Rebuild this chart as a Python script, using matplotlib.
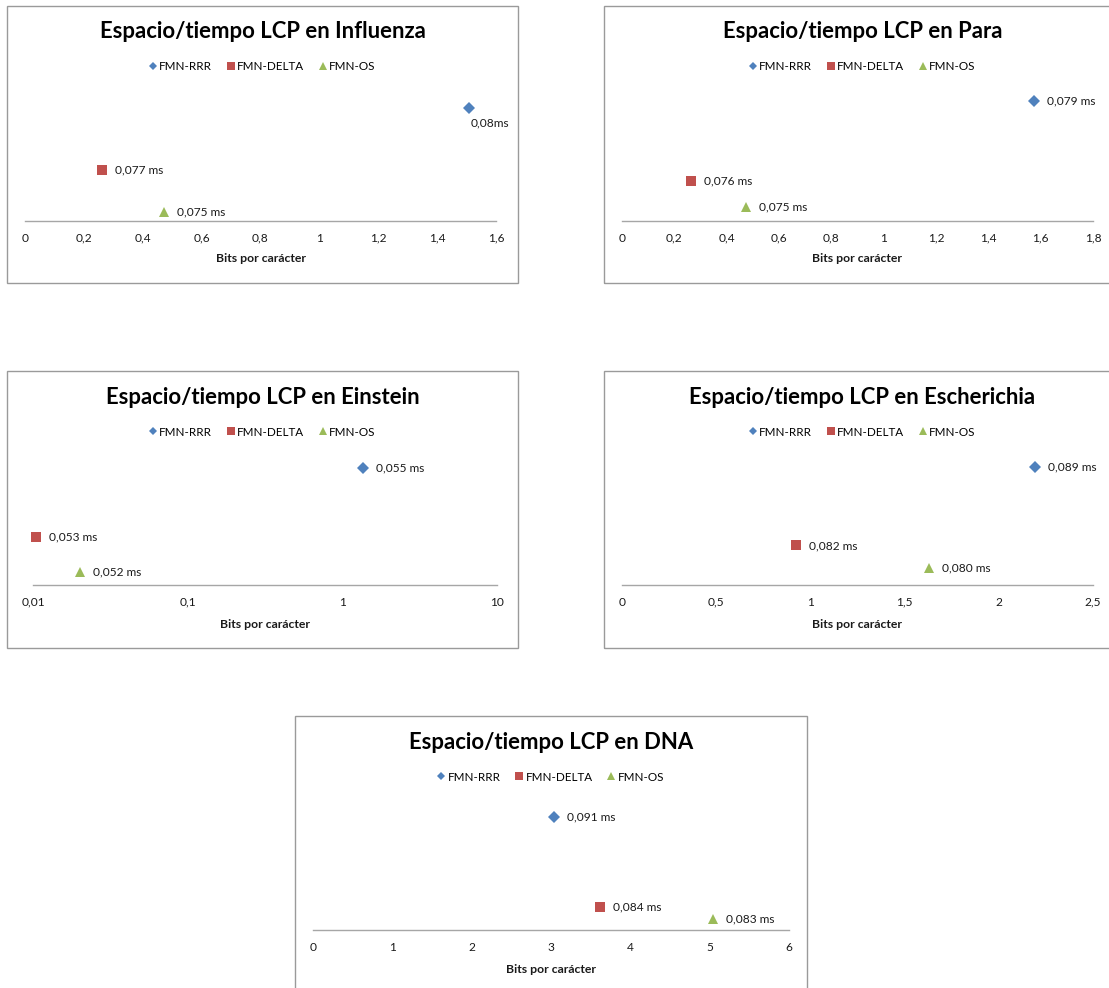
import matplotlib
matplotlib.use('Agg')
import matplotlib.pyplot as plt
from matplotlib.patches import Rectangle
from matplotlib.ticker import FuncFormatter, FixedLocator, NullLocator

plt.rcParams['font.family'] = ['Lato', 'DejaVu Sans']

W, H = 1109, 988

series_names = ['FMN-RRR', 'FMN-DELTA', 'FMN-OS']
colors = ['#4F81BD', '#C0504D', '#9BBB59']
markers = ['D', 's', '^']

titles = ['Espacio/tiempo LCP en Influenza', 'Espacio/tiempo LCP en Para',
          'Espacio/tiempo LCP en Einstein', 'Espacio/tiempo LCP en Escherichia',
          'Espacio/tiempo LCP en DNA']

# bits per character for RRR, DELTA, OS
influenza_bpc = [1.508, 0.262, 0.472]
para_bpc = [1.575, 0.264, 0.474]
einstein_bpc = [1.36, 0.0105, 0.0201]
escherichia_bpc = [2.19, 0.924, 1.63]
dna_bpc = [3.04, 3.62, 5.04]

# time per LCP query (ms)
influenza_ms = [0.080, 0.077, 0.075]
para_ms = [0.079, 0.076, 0.075]
einstein_ms = [0.055, 0.053, 0.052]
escherichia_ms = [0.089, 0.082, 0.080]
dna_ms = [0.091, 0.084, 0.083]

influenza_lbl = ['0,08ms', '0,077 ms', '0,075 ms']
para_lbl = ['0,079 ms', '0,076 ms', '0,075 ms']
einstein_lbl = ['0,055 ms', '0,053 ms', '0,052 ms']
escherichia_lbl = ['0,089 ms', '0,082 ms', '0,080 ms']
dna_lbl = ['0,091 ms', '0,084 ms', '0,083 ms']

panels = [
    # frame and plot area in pixels (x0, y0, x1, y1)
    dict(x=influenza_bpc, y=influenza_ms, lbl=influenza_lbl,
         frame=(7, 6, 518, 283), area=(25, 85, 496, 220.7),
         xlim=(0, 1.6), ylim=(0.07458, 0.08111), log=False,
         xticks=[0, 0.2, 0.4, 0.6, 0.8, 1, 1.2, 1.4, 1.6]),
    dict(x=para_bpc, y=para_ms, lbl=para_lbl,
         frame=(604, 6, 1125, 283), area=(622, 85, 1093, 220.7),
         xlim=(0, 1.8), ylim=(0.07449, 0.0796), log=False,
         xticks=[0, 0.2, 0.4, 0.6, 0.8, 1, 1.2, 1.4, 1.6, 1.8]),
    dict(x=einstein_bpc, y=einstein_ms, lbl=einstein_lbl,
         frame=(7, 371, 518, 648), area=(33, 450, 497, 585),
         xlim=(0.01, 10), ylim=(0.05162, 0.05552), log=True,
         xticks=[0.01, 0.1, 1, 10]),
    dict(x=escherichia_bpc, y=escherichia_ms, lbl=escherichia_lbl,
         frame=(604, 371, 1125, 648), area=(622, 450, 1093, 585),
         xlim=(0, 2.5), ylim=(0.07849, 0.09047), log=False,
         xticks=[0, 0.5, 1, 1.5, 2, 2.5]),
    dict(x=dna_bpc, y=dna_ms, lbl=dna_lbl,
         frame=(295, 716, 807, 1000), area=(313, 795, 789, 930),
         xlim=(0, 6), ylim=(0.08217, 0.09272), log=False,
         xticks=[0, 1, 2, 3, 4, 5, 6]),
]

# label offsets in pixels (dx, dy) where the label is not right of the mark
offsets = {(0, 0): (2, -15)}

fig = plt.figure(figsize=(W / 100, H / 100), dpi=100)
fig.patch.set_facecolor('white')


def comma(v, pos=None):
    return ('%g' % v).replace('.', ',')


for i, p in enumerate(panels):
    fx0, fy0, fx1, fy1 = p['frame']
    fig.patches.append(Rectangle((fx0 / W, 1 - fy1 / H), (fx1 - fx0) / W, (fy1 - fy0) / H,
                                 transform=fig.transFigure, fill=False,
                                 edgecolor='#9A9A9A', lw=1.0))
    ax0, ay0, ax1, ay1 = p['area']
    ax = fig.add_axes([ax0 / W, 1 - ay1 / H, (ax1 - ax0) / W, (ay1 - ay0) / H])
    ax.patch.set_alpha(0)
    for s in range(3):
        ax.plot(p['x'][s], p['y'][s], ls='none', marker=markers[s], color=colors[s],
                markersize=6 if markers[s] == 'D' else 7.2, markeredgewidth=0,
                label=series_names[s], clip_on=False)
        dx, dy = offsets.get((i, s), (13, 0))
        ax.annotate(p['lbl'][s], (p['x'][s], p['y'][s]), xytext=(dx * 0.72, dy * 0.72),
                    textcoords='offset points', ha='left', va='center',
                    fontsize=8.6, color='#1a1a1a')
    if p['log']:
        ax.set_xscale('log')
    ax.set_xlim(*p['xlim'])
    ax.set_ylim(*p['ylim'])
    ax.xaxis.set_major_locator(FixedLocator(p['xticks']))
    ax.xaxis.set_minor_locator(NullLocator())
    ax.xaxis.set_major_formatter(FuncFormatter(comma))
    ax.tick_params(axis='x', length=0, pad=8.5, labelsize=8.6, labelcolor='#1a1a1a')
    ax.set_yticks([])
    for side in ['left', 'right', 'top']:
        ax.spines[side].set_visible(False)
    ax.spines['bottom'].set_color('#A6A6A6')
    ax.spines['bottom'].set_linewidth(1.0)

    cx = (fx0 + fx1) / 2 if fx1 <= W else (fx0 + 1121) / 2
    fig.text(cx / W, 1 - (fy0 + 26) / H, titles[i], ha='center', va='center',
             fontsize=15.9, fontweight='bold', color='black')
    handles, labels = ax.get_legend_handles_labels()
    fig.legend(handles, labels, loc='center', bbox_to_anchor=(cx / W, 1 - (fy0 + 61) / H),
               ncol=3, frameon=False, fontsize=8.4, handlelength=0.6, handletextpad=0.25,
               columnspacing=1.3, markerscale=0.75, borderpad=0)
    fig.text(((ax0 + ax1) / 2) / W, 1 - (fy0 + 253) / H, 'Bits por carácter',
             ha='center', va='center', fontsize=8.8, fontweight='bold', color='#1a1a1a')

fig.savefig('out.png', dpi=100, facecolor='white')
